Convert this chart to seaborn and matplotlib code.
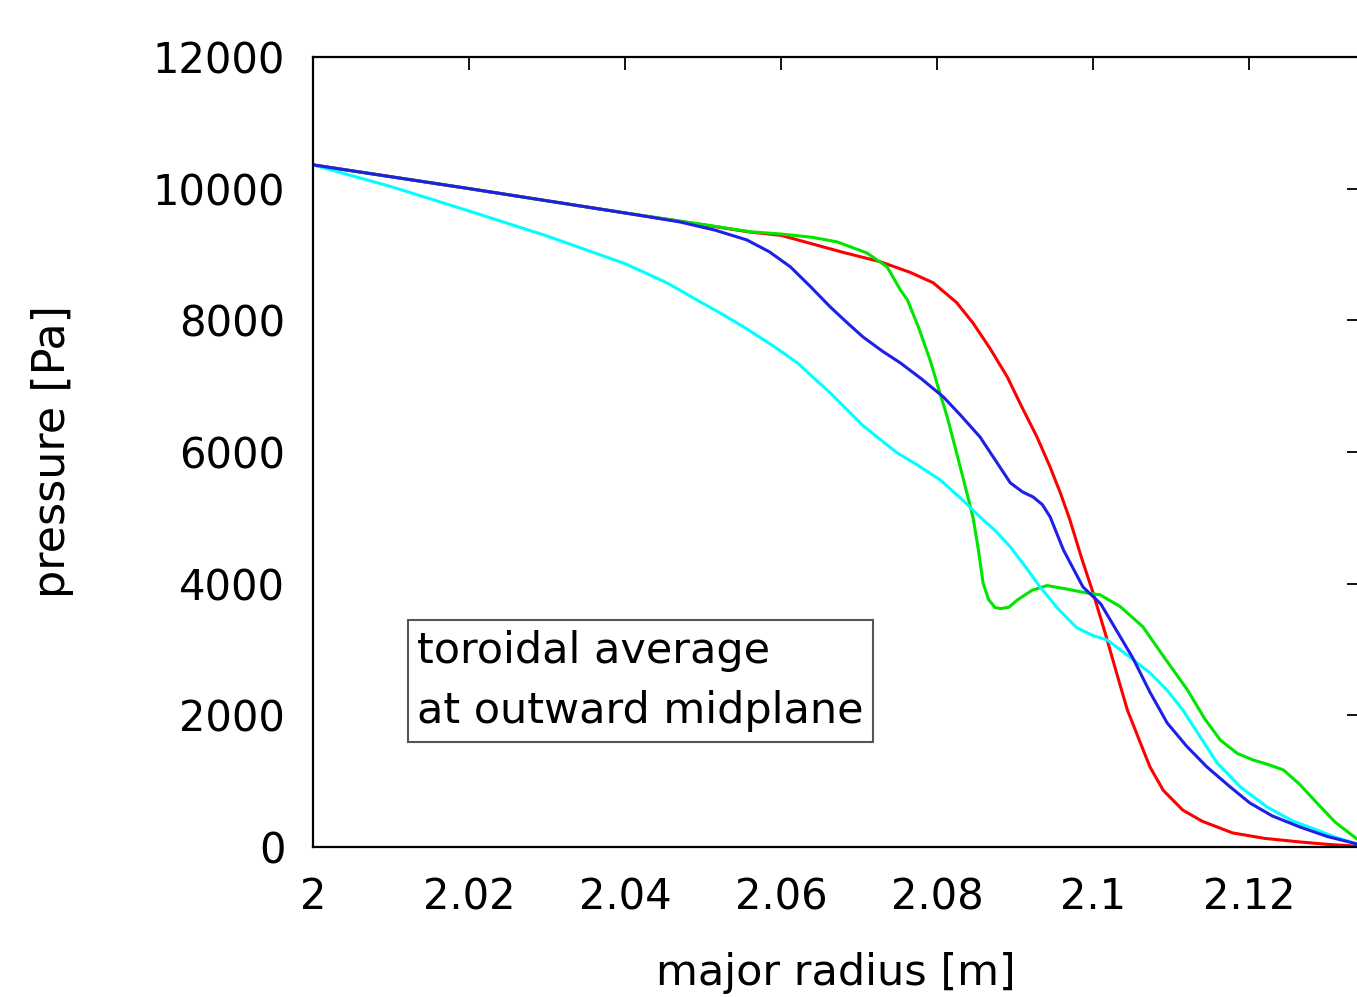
import pandas as pd
import matplotlib
matplotlib.use("Agg")
import matplotlib.pyplot as plt
import seaborn as sns

# --- data (major radius [m], pressure [Pa]) ---
r_red = [2.000, 2.010, 2.020, 2.030, 2.040, 2.050, 2.056, 2.060, 2.068, 2.0727, 2.0765,
         2.0795, 2.0825, 2.0846, 2.0868, 2.089, 2.0908, 2.0928, 2.0945, 2.0958, 2.097,
         2.0985, 2.100, 2.1015, 2.103, 2.1044, 2.106, 2.1073, 2.109, 2.1115, 2.114,
         2.1179, 2.122, 2.1265, 2.130, 2.134]
p_red = [10360, 10180, 10000, 9815, 9630, 9450, 9340, 9290, 9030, 8890, 8730,
         8570, 8270, 7960, 7570, 7140, 6700, 6230, 5770, 5380, 4980,
         4400, 3860, 3270, 2650, 2080, 1600, 1215, 860, 560, 390,
         213, 130, 76, 40, 10]

r_green = [2.000, 2.010, 2.020, 2.030, 2.040, 2.050, 2.056, 2.060, 2.064, 2.0672, 2.071,
           2.0736, 2.0753, 2.0762, 2.0776, 2.0791, 2.0802, 2.0813, 2.0823, 2.0833, 2.0846,
           2.0853, 2.0859, 2.0866, 2.0874, 2.0881, 2.0892, 2.0903, 2.0922, 2.0941, 2.0965,
           2.0992, 2.1009, 2.1035, 2.1064, 2.109, 2.1121, 2.1143, 2.1163, 2.1185, 2.1205,
           2.1225, 2.1244, 2.1265, 2.1287, 2.131, 2.134]
p_green = [10360, 10180, 10000, 9815, 9630, 9455, 9345, 9310, 9260, 9190, 9023,
           8811, 8461, 8309, 7900, 7398, 6960, 6532, 6080, 5621, 5013,
           4512, 4010, 3760, 3640, 3620, 3640, 3752, 3900, 3970, 3920,
           3858, 3830, 3650, 3342, 2900, 2385, 1950, 1625, 1420, 1322,
           1250, 1170, 950, 668, 380, 106]

r_blue = [2.000, 2.010, 2.020, 2.030, 2.040, 2.047, 2.0515, 2.0556, 2.0585, 2.0612, 2.0637,
          2.0663, 2.0685, 2.0705, 2.073, 2.0753, 2.078, 2.0808, 2.083, 2.0855, 2.0875,
          2.0894, 2.091, 2.0923, 2.0935, 2.0945, 2.0962, 2.0987, 2.101, 2.1031, 2.1051,
          2.1073, 2.1095, 2.112, 2.1146, 2.1175, 2.1201, 2.123, 2.1265, 2.130, 2.134]
p_blue = [10360, 10180, 10000, 9815, 9630, 9494, 9370, 9221, 9040, 8811, 8520,
          8203, 7960, 7747, 7530, 7352, 7110, 6836, 6560, 6228, 5870,
          5529, 5390, 5317, 5200, 5013, 4512, 3950, 3690, 3270, 2870,
          2350, 1884, 1530, 1215, 920, 668, 470, 304, 160, 40]

r_cyan = [2.000, 2.010, 2.020, 2.030, 2.040, 2.0454, 2.0492, 2.0525, 2.0556, 2.059, 2.0621,
          2.0663, 2.0705, 2.0727, 2.0749, 2.0775, 2.0804, 2.083, 2.0855, 2.0875, 2.0894,
          2.0913, 2.0932, 2.0955, 2.0979, 2.100, 2.1018, 2.104, 2.1073, 2.1095, 2.1115,
          2.1137, 2.1159, 2.119, 2.1223, 2.1255, 2.1287, 2.131, 2.134]
p_cyan = [10360, 10030, 9660, 9280, 8860, 8567, 8309, 8090, 7870, 7610, 7352,
          6897, 6400, 6190, 5985, 5800, 5575, 5300, 5013, 4800, 4557,
          4260, 3950, 3620, 3330, 3210, 3145, 2950, 2643, 2380, 2081,
          1680, 1276, 900, 608, 400, 258, 150, 40]

x_ticks = [2.00, 2.02, 2.04, 2.06, 2.08, 2.10, 2.12]
x_tick_labels = ["2", "2.02", "2.04", "2.06", "2.08", "2.1", "2.12"]
y_ticks = [0, 2000, 4000, 6000, 8000, 10000, 12000]

# long-form table for seaborn
frames = []
for name, r, p in [("red", r_red, p_red), ("green", r_green, p_green),
                   ("blue", r_blue, p_blue), ("cyan", r_cyan, p_cyan)]:
    frames.append(pd.DataFrame({"radius": r, "pressure": p, "case": name}))
df = pd.concat(frames, ignore_index=True)

palette = {"red": "#ff0000", "green": "#00e600", "blue": "#1f1fe8", "cyan": "#00ffff"}

sns.set_style("white")
plt.rcParams["font.family"] = ["DejaVu Sans"]
plt.rcParams["text.color"] = "black"
plt.rcParams["axes.labelcolor"] = "black"

fig = plt.figure(figsize=(13.57, 9.97), dpi=100)
ax = fig.add_axes([0.2307, 0.1505, 0.7708, 0.7924])

sns.lineplot(data=df, x="radius", y="pressure", hue="case", palette=palette,
             hue_order=["red", "green", "cyan", "blue"],
             linewidth=2.2, legend=False, ax=ax)

ax.set_xlim(2.0, 2.1341)
ax.set_ylim(0, 12000)
ax.set_xticks(x_ticks)
ax.set_xticklabels(x_tick_labels)
ax.set_yticks(y_ticks)

ax.tick_params(axis="both", direction="in", top=True, right=True,
               length=9, width=1.3, labelsize=30, colors="black")
ax.tick_params(axis="x", pad=21)
ax.tick_params(axis="y", pad=20)

for s in ax.spines.values():
    s.set_visible(True)
    s.set_color("black")
    s.set_linewidth(1.6)

ax.set_xlabel("major radius [m]", fontsize=31, color="black")
ax.set_ylabel("pressure [Pa]", fontsize=32, color="black")
ax.xaxis.set_label_coords(0.5, -0.133)
ax.yaxis.set_label_coords(-0.229, 0.5)

ax.text(0.0994, 0.2101, "toroidal average\nat outward midplane", transform=ax.transAxes,
        fontsize=31, ha="left", va="center", linespacing=1.55, color="black",
        bbox=dict(boxstyle="square,pad=0.22", facecolor="white",
                  edgecolor="#555555", linewidth=1.5))

fig.savefig("out.png", dpi=100)
plt.close(fig)
